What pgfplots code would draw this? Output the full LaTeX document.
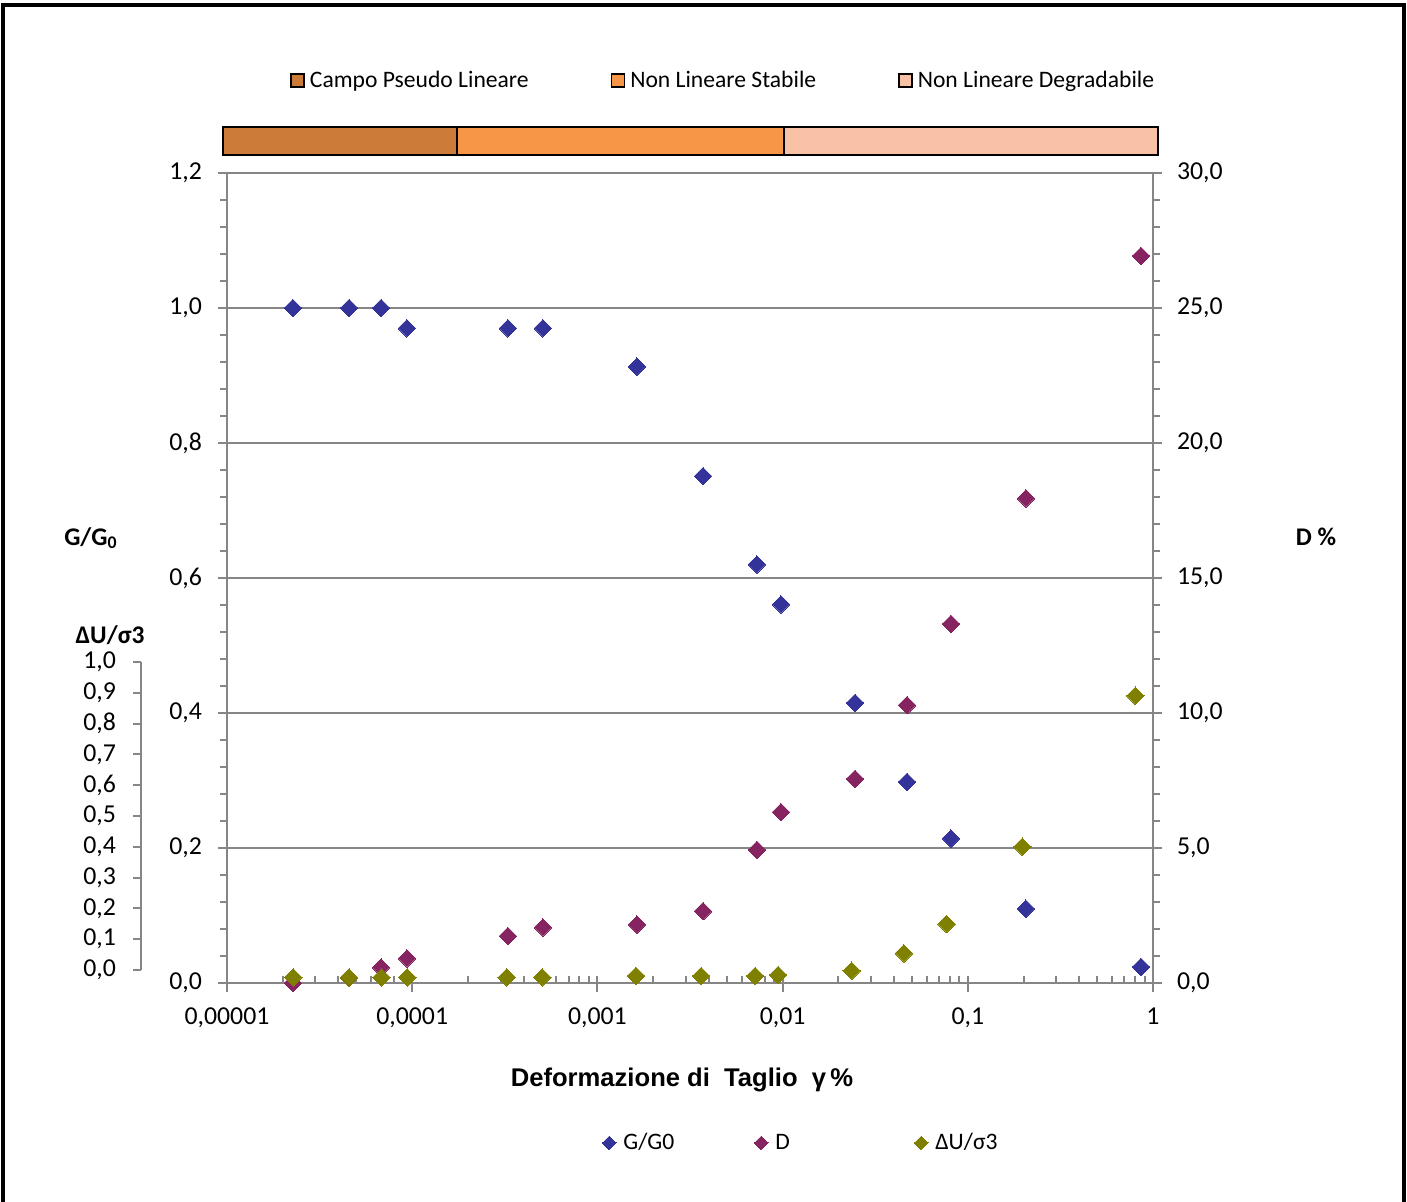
\documentclass[border=0pt]{standalone}
\usepackage{pgfplots}
\usepackage{pgfplotstable}
\pgfplotsset{compat=1.18}
\usepackage{fontspec}
\setmainfont{Carlito}
\newfontfamily\arialfont{Liberation Sans}
\definecolor{gcol}{HTML}{333399}
\definecolor{dcol}{HTML}{862461}
\definecolor{ucol}{HTML}{808000}
\definecolor{axgray}{HTML}{868686}
\definecolor{bandA}{HTML}{CC7B38}
\definecolor{bandB}{HTML}{F79646}
\definecolor{bandC}{HTML}{F9C2A6}
\newcommand\fs{\fontsize{11.8pt}{14pt}\selectfont}
\newcommand\ft{\fontsize{12.9pt}{15pt}\selectfont}
\newcommand\fl{\fontsize{12.7pt}{15pt}\selectfont}

% G/G0
\pgfplotstableread{
x y
2.27e-5 1.000
4.56e-5 1.000
6.79e-5 1.000
9.37e-5 0.970
3.29e-4 0.970
5.08e-4 0.970
1.636e-3 0.913
3.72e-3 0.751
7.27e-3 0.620
9.80e-3 0.561
0.0246 0.415
0.0470 0.298
0.0811 0.214
0.206 0.110
0.861 0.024
}\tabG
% D %
\pgfplotstableread{
x y
2.27e-5 0.00
4.56e-5 0.19
6.79e-5 0.58
9.37e-5 0.91
3.29e-4 1.74
5.08e-4 2.06
1.636e-3 2.16
3.72e-3 2.66
7.27e-3 4.93
9.80e-3 6.33
0.0246 7.56
0.0470 10.29
0.0811 13.30
0.206 17.95
0.861 26.93
}\tabD
% DeltaU/sigma3 (on the left scale)
\pgfplotstableread{
x y
2.28e-5 0.0084
4.56e-5 0.0084
6.83e-5 0.0084
9.41e-5 0.0084
3.24e-4 0.0084
5.04e-4 0.0084
1.616e-3 0.0104
3.63e-3 0.0104
7.10e-3 0.0104
9.45e-3 0.0119
0.0236 0.0182
0.0452 0.0440
0.0769 0.0874
0.197 0.2019
0.803 0.4256
}\tabU

\pgfplotsset{
  mk/.style={only marks, mark=square*, mark size=3.1pt,
    mark options={rotate=45, fill=#1, draw=#1, line width=0pt}},
  smallmk/.style={legend image code/.code={\path[draw=none, fill=none] (0pt,0pt) -- (9pt,0pt);\draw[##1, mark size=2.4pt] plot coordinates {(3.4pt,0pt)};}},
  bandlegend/.style={legend image code/.code={\draw[##1, draw=black, line width=0.8pt] (0pt,-3.25pt) rectangle (6.5pt,3.25pt);}},
}

\begin{document}
\begin{tikzpicture}
\useasboundingbox (0pt,0pt) rectangle (703.5pt,-601pt);

% band of strain ranges
\begin{axis}[
  scale only axis, width=467.5pt, height=14pt,
  anchor=south west, at={(111.5pt,-77.5pt)},
  xmode=log, xmin=9.515e-6, xmax=1.064, ymin=0, ymax=1,
  hide axis, clip=false,
  legend columns=3,
  legend style={at={(axis description cs:0.0716,2.65)}, anchor=west,
    draw=none, fill=none, inner sep=0pt, font=\fs,
    nodes={inner sep=2.5pt},
    /tikz/every even column/.append style={column sep=38.5pt}},
]
\addplot[fill=bandA, draw=black, line width=0.8pt, bandlegend] coordinates {(9.515e-6,1) (1.75e-4,1)} \closedcycle;
\addlegendentry{Campo Pseudo Lineare}
\addplot[fill=bandB, draw=black, line width=0.8pt, bandlegend] coordinates {(1.75e-4,1) (1.0175e-2,1)} \closedcycle;
\addlegendentry{Non Lineare Stabile}
\addplot[fill=bandC, draw=black, line width=0.8pt, bandlegend] coordinates {(1.0175e-2,1) (1.064,1)} \closedcycle;
\addlegendentry{Non Lineare Degradabile}
\end{axis}

% DeltaU/sigma3 scale
\begin{axis}[
  scale only axis, width=10pt, height=154pt,
  anchor=south west, at={(70.5pt,-485pt)},
  xmin=0, xmax=1, ymin=0, ymax=1,
  hide x axis, axis y line*=left,
  axis line style={axgray, line width=1pt, -},
  tick style={axgray, line width=1pt},
  tick align=outside, major tick length=4pt,
  ytick={0,0.1,0.2,0.3,0.4,0.5,0.6,0.7,0.8,0.9,1.0},
  tick label style={font=\ft, black},
  /pgf/number format/assume math mode=true,
  yticklabel style={xshift=-5pt, /pgf/number format/.cd, use comma, fixed, fixed zerofill, precision=1},
  ylabel={ΔU/σ3}, label style={font=\fl\bfseries},
  ylabel style={at={(axis description cs:-1.55,1.088)}, rotate=-90, anchor=center},
]
\end{axis}

% main axis: G/G0
\begin{axis}[
  scale only axis, width=463pt, height=405pt,
  anchor=south west, at={(113.5pt,-491.5pt)},
  xmode=log, xmin=1e-5, xmax=1,
  ymin=0, ymax=1.2,
  axis x line*=bottom, axis y line*=left,
  axis line style={axgray, line width=1pt, -},
  tick style={axgray, line width=1pt},
  tick align=outside,
  major tick length=4.5pt, minor tick length=3.5pt,
  minor x tick style={yshift=3.5pt},
  tick label style={font=\ft, black},
  /pgf/number format/assume math mode=true,
  yticklabel style={xshift=-4.5pt, /pgf/number format/.cd, use comma, fixed, fixed zerofill, precision=1},
  xticklabel style={yshift=-4.5pt},
  xtick={1e-5,1e-4,1e-3,1e-2,1e-1,1},
  xticklabels={{0,00001},{0,0001},{0,001},{0,01},{0,1},{1}},
  ytick={0,0.2,0.4,0.6,0.8,1.0,1.2},
  minor y tick num=4,
  ymajorgrids, major grid style={axgray, line width=1pt},
  ylabel={G/G\textsubscript{0}},
  label style={font=\fl\bfseries},
  ylabel style={at={(axis description cs:-0.1469,0.549)}, rotate=-90, anchor=center},
  xlabel={\arialfont\bfseries Deformazione di\ \ Taglio\ \ γ\,\%},
  xlabel style={at={(axis description cs:0.4914,-0.1198)}, anchor=center, font=\fontsize{12.8pt}{15pt}\selectfont},
]
\addplot[mk=gcol] table {\tabG};
\end{axis}

% right axis: D %
\begin{axis}[
  scale only axis, width=463pt, height=405pt,
  anchor=south west, at={(113.5pt,-491.5pt)},
  xmode=log, xmin=1e-5, xmax=1,
  ymin=0, ymax=30,
  hide x axis, axis y line*=right,
  axis line style={axgray, line width=1pt, -},
  tick style={axgray, line width=1pt},
  tick align=outside,
  major tick length=4.5pt, minor tick length=3.5pt,
  tick label style={font=\ft, black},
  /pgf/number format/assume math mode=true,
  yticklabel style={xshift=4pt, /pgf/number format/.cd, use comma, fixed, fixed zerofill, precision=1},
  ytick={0,5,10,15,20,25,30},
  minor y tick num=4,
  ylabel={D \%},
  label style={font=\fl\bfseries},
  ylabel style={at={(axis description cs:1.176,0.551)}, rotate=-90, anchor=center},
]
\addplot[mk=dcol] table {\tabD};
\end{axis}

% overlay: DeltaU/sigma3 points and legend
\begin{axis}[
  scale only axis, width=463pt, height=405pt,
  anchor=south west, at={(113.5pt,-491.5pt)},
  xmode=log, xmin=1e-5, xmax=1,
  ymin=0, ymax=1.2, hide axis,
  legend columns=3,
  legend style={at={(axis description cs:0.405,-0.1975)}, anchor=west,
    draw=none, fill=none, inner sep=0pt, font=\fs,
    nodes={inner sep=1.5pt}, column sep=0pt},
]
\addlegendimage{mk=gcol, smallmk}
\addlegendentry{\makebox[64pt][l]{G/G0}}
\addlegendimage{mk=dcol, smallmk}
\addlegendentry{\makebox[68pt][l]{D}}
\addplot[mk=ucol, smallmk] table {\tabU};
\addlegendentry{ΔU/σ3}
\end{axis}

\draw[line width=2pt] (1.5pt,-601pt) -- (1.5pt,-2.5pt) -- (702pt,-2.5pt) -- (702pt,-601pt);
\end{tikzpicture}
\end{document}
